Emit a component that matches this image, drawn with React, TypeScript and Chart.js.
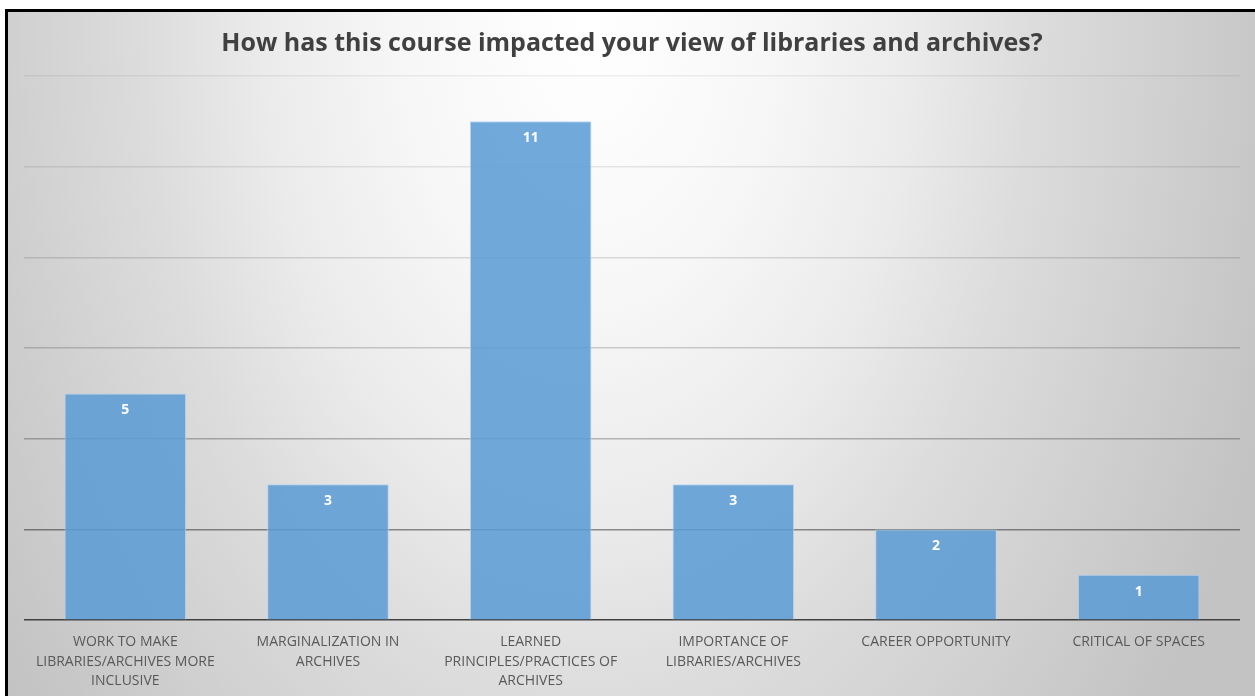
import React, { useEffect, useRef } from "react";
import { Chart, registerables } from "chart.js";

Chart.register(...registerables);

const TITLE = "How has this course impacted your view of libraries and archives?";
const CATEGORIES: string[][] = [
  ["WORK TO MAKE", "LIBRARIES/ARCHIVES MORE", "INCLUSIVE"],
  ["MARGINALIZATION IN", "ARCHIVES"],
  ["LEARNED", "PRINCIPLES/PRACTICES OF", "ARCHIVES"],
  ["IMPORTANCE OF", "LIBRARIES/ARCHIVES"],
  ["CAREER OPPORTUNITY"],
  ["CRITICAL OF SPACES"],
];
const COUNTS: number[] = [5, 3, 11, 3, 2, 1];
const Y_MAX = 12;
const Y_STEP = 2;

const FONT = "'Open Sans', 'DejaVu Sans', sans-serif";

const gridColorFor = (v: number): string => {
  if (v === 0) return "#404040";
  const alphas: Record<number, number> = { 2: 0.42, 4: 0.26, 6: 0.18, 8: 0.13, 10: 0.09, 12: 0.06 };
  const a = alphas[v] ?? 0.1;
  return `rgba(0,0,0,${a})`;
};

const valueLabels = {
  id: "valueLabels",
  afterDatasetsDraw(chart: any) {
    const ctx = chart.ctx;
    const meta = chart.getDatasetMeta(0);
    const data = chart.data.datasets[0].data as number[];
    ctx.save();
    ctx.fillStyle = "#ffffff";
    ctx.font = `bold 14px ${FONT}`;
    ctx.textAlign = "center";
    ctx.textBaseline = "middle";
    meta.data.forEach((bar: any, i: number) => {
      ctx.fillText(String(data[i]), bar.x, bar.y + 17);
    });
    ctx.restore();
  },
};

export default function App() {
  const ref = useRef<HTMLCanvasElement | null>(null);

  useEffect(() => {
    if (!ref.current) return;
    const chart = new Chart(ref.current, {
      type: "bar",
      data: {
        labels: CATEGORIES,
        datasets: [
          {
            data: COUNTS,
            backgroundColor: "rgba(91,155,213,0.86)",
            borderColor: "rgba(180,210,238,0.9)",
            borderWidth: 1,
            categoryPercentage: 0.6,
            barPercentage: 1,
          },
        ],
      },
      options: {
        responsive: false,
        animation: false,
        devicePixelRatio: 1,
        layout: { padding: { left: 16, right: 15, top: 0, bottom: 6 } },
        plugins: {
          legend: { display: false },
          tooltip: { enabled: false },
          title: {
            display: true,
            text: TITLE,
            color: "#404040",
            font: { family: FONT, size: 25, weight: "bold", lineHeight: 1.2 },
            padding: { top: 16.5, bottom: 17.5 },
          },
        },
        scales: {
          x: {
            grid: { display: false, drawTicks: false },
            border: { display: false },
            ticks: {
              color: "#595959",
              font: { family: FONT, size: 14, lineHeight: 1.4 },
              padding: 12,
              maxRotation: 0,
              autoSkip: false,
            },
          },
          y: {
            min: 0,
            max: Y_MAX,
            ticks: { display: false, stepSize: Y_STEP },
            border: { display: false },
            grid: {
              drawTicks: false,
              lineWidth: 1.5,
              color: (c: any) => gridColorFor(c.tick ? c.tick.value : 1),
            },
          },
        },
      },
      plugins: [valueLabels],
    });
    return () => chart.destroy();
  }, []);

  return (
    <div
      style={{
        position: "fixed",
        left: 0,
        top: 0,
        width: 1255,
        height: 696,
        background: "#ffffff",
        overflow: "hidden",
      }}
    >
      <div
        style={{
          position: "absolute",
          left: 5,
          top: 9,
          width: 1250,
          height: 700,
          boxSizing: "border-box",
          borderTop: "3px solid #000",
          borderLeft: "3px solid #000",
          background:
            "radial-gradient(ellipse 720px 1100px at 580px 10px, #ffffff 0%, #f7f7f7 25%, #ebebeb 45%, #dcdcdc 62%, #d0d0d0 80%, #c3c3c3 100%)",
        }}
      >
        <canvas ref={ref} width={1247} height={697} style={{ display: "block" }} />
      </div>
    </div>
  );
}
